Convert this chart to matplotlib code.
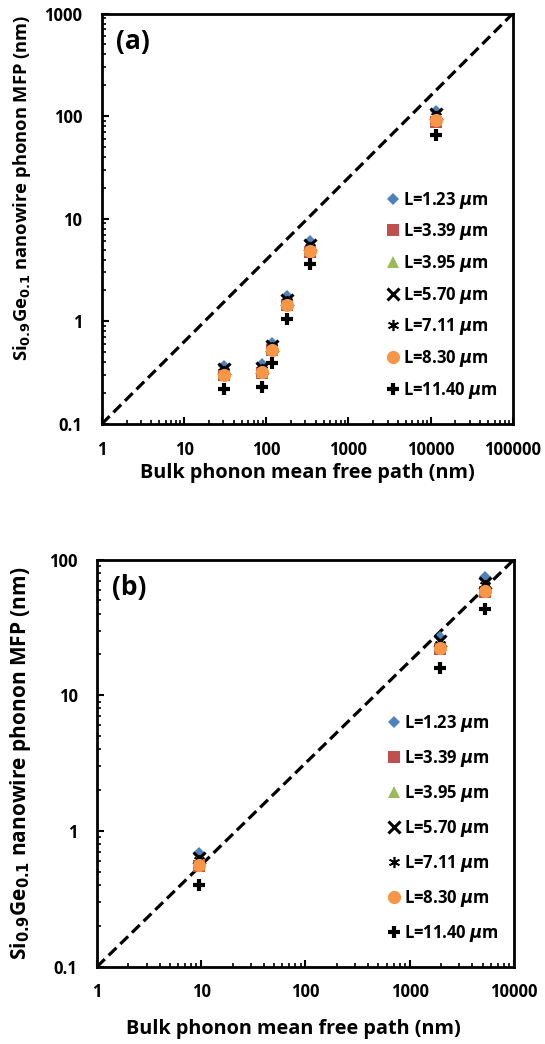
import numpy as np
import matplotlib
matplotlib.use('Agg')
import matplotlib.pyplot as plt
import matplotlib.ticker as ticker

plt.rcParams['font.family'] = ['Open Sans', 'DejaVu Sans']
plt.rcParams['font.weight'] = 'bold'
plt.rcParams['mathtext.fontset'] = 'dejavusans'

# series labels (nanowire length)
labels = ['L=1.23 $\\mu$m', 'L=3.39 $\\mu$m', 'L=3.95 $\\mu$m', 'L=5.70 $\\mu$m',
          'L=7.11 $\\mu$m', 'L=8.30 $\\mu$m', 'L=11.40 $\\mu$m']

# panel (a)
x_a = [31, 88, 119, 181, 339, 11500]
y_a = [
    [0.37, 0.38, 0.62, 1.75, 6.0, 112],   # 1.23
    [0.30, 0.31, 0.52, 1.45, 4.7, 88],    # 3.39
    [0.31, 0.32, 0.54, 1.50, 4.9, 92],    # 3.95
    [0.34, 0.35, 0.58, 1.62, 5.5, 104],   # 5.70
    [0.33, 0.34, 0.56, 1.58, 5.3, 100],   # 7.11
    [0.30, 0.32, 0.53, 1.45, 4.8, 91],    # 8.30
    [0.22, 0.23, 0.39, 1.05, 3.6, 66],    # 11.40
]
diag_a_x = [1, 100000]
diag_a_y = [0.1, 1000]

# panel (b)
x_b = [9.5, 1950, 5260]
y_b = [
    [0.69, 27, 74],
    [0.55, 22, 58],
    [0.57, 23, 61],
    [0.63, 25, 67],
    [0.61, 24, 65],
    [0.56, 22.5, 59],
    [0.40, 16, 43.5],
]
diag_b_x = [1, 10000]
diag_b_y = [0.1, 100]

markers = ['D', 's', '^', 'x', (6, 2, 0), 'o', 'P']
colors = ['#4F81BD', '#C0504D', '#9BBB59', 'black', 'black', '#F79646', 'black']
sizes = [6.5, 8, 8, 8, 8, 9.5, 8]
mews = [0, 0, 0, 2.2, 1.2, 0, 0]


def draw_panel(ax, x, ys, dx, dy, xlim, ylim, tag, ylab_size, xl_pos, yl_pos,
               spacing):
    ax.plot(dx, dy, '--', color='black', lw=2.3, dashes=(3.4, 1.7), zorder=1)
    for i, y in enumerate(ys):
        m = markers[i]
        if m == 'P':
            ax.plot(x, y, linestyle='none', marker='+', color='black',
                    markersize=9, markeredgewidth=3, label=labels[i], zorder=3)
        else:
            ax.plot(x, y, linestyle='none', marker=m, color=colors[i],
                    markersize=sizes[i], markeredgewidth=mews[i],
                    label=labels[i], zorder=3)
    ax.set_xscale('log')
    ax.set_yscale('log')
    ax.set_xlim(xlim)
    ax.set_ylim(ylim)
    fmt = ticker.FuncFormatter(lambda v, p: ('%g' % v) if v >= 1 else '%.1f' % v)
    ax.xaxis.set_major_formatter(fmt)
    ax.yaxis.set_major_formatter(fmt)
    ax.xaxis.set_minor_formatter(ticker.NullFormatter())
    ax.yaxis.set_minor_formatter(ticker.NullFormatter())
    ax.tick_params(which='major', direction='in', length=5, width=1.5,
                   labelsize=12, pad=14)
    ax.tick_params(axis='x', which='major', pad=12)
    ax.tick_params(which='minor', direction='in', length=3, width=1.2)
    for s in ax.spines.values():
        s.set_linewidth(2)
    for lab in ax.get_xticklabels() + ax.get_yticklabels():
        lab.set_fontweight('bold')
    ax.set_xlabel('Bulk phonon mean free path (nm)', fontsize=14.3,
                  fontweight='bold')
    ax.set_ylabel('Si$_{0.9}$Ge$_{0.1}$ nanowire phonon MFP (nm)',
                  fontsize=ylab_size, fontweight='bold')
    ax.xaxis.set_label_coords(*xl_pos)
    ax.yaxis.set_label_coords(*yl_pos)
    ax.text(0.035, 0.965, tag, transform=ax.transAxes, fontsize=19,
            fontweight='bold', va='top', ha='left')
    ax.legend(loc='lower right', bbox_to_anchor=(1.0, 0.02), frameon=False,
              handletextpad=0.1, handlelength=1.0,
              labelspacing=spacing, markerscale=1.0,
              prop={'weight': 'bold', 'size': 12})


fig = plt.figure(figsize=(5.45, 10.44), dpi=100)
ax1 = fig.add_axes([0.187, 0.594, 0.754, 0.393])
ax2 = fig.add_axes([0.178, 0.074, 0.765, 0.390])

draw_panel(ax1, x_a, y_a, diag_a_x, diag_a_y, (1, 100000), (0.1, 1000), '(a)',
           13.2, (0.5, -0.095), (-0.168, 0.576), 0.64)
draw_panel(ax2, x_b, y_b, diag_b_x, diag_b_y, (1, 10000), (0.1, 100), '(b)',
           15, (0.471, -0.128), (-0.153, 0.5), 0.84)

fig.savefig('out.png', dpi=100)
